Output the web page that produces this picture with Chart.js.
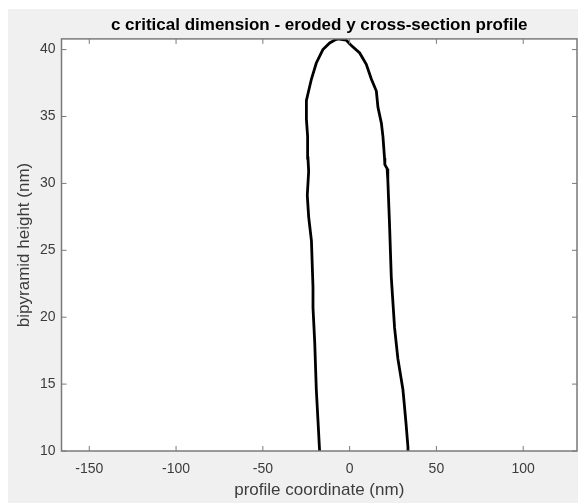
<!DOCTYPE html>
<html lang="en">
<head>
    <meta charset="UTF-8">
    <title>eroded y cross-section profile</title>
    <script src="https://cdn.jsdelivr.net/npm/chart.js"></script>
    <style>
        body {
            margin: 0;
            background-color: #ffffff;
        }
        #wrap {
            position: relative;
            width: 578px;
            height: 503px;
        }
    </style>
</head>
<body>
    <div id="wrap">
        <canvas id="profileChart" width="578" height="503"></canvas>
    </div>

    <script>
        // profile outline (left edge up, then right edge down)
        const profileX = [-17.3, -18.2, -19.2, -20.1, -21.1, -21.1, -22.0, -23.6, -24.4, -23.6, -24.0, -24.2, -24.9,
            -24.9, -24.0, -22.0, -19.2, -15.4, -11.5, -8.0, -6.7, -4.0, -1.9, 1.0, 5.8, 9.6, 12.5, 15.4, 16.3, 18.3,
            19.2, 20.1, 20.3, 21.6, 22.0, 23.0, 24.0, 25.9, 27.8, 30.7, 31.7, 32.6, 33.6, 33.6];
        const profileY = [10.0, 12.2, 14.6, 18.1, 20.7, 22.2, 25.7, 27.5, 29.1, 30.9, 31.9, 33.5, 34.8,
            36.2, 36.7, 37.8, 39.0, 40.0, 40.5, 40.75, 40.8, 40.75, 40.7, 40.3, 39.75, 38.9, 37.8, 36.9, 35.7, 34.5,
            33.5, 31.9, 31.4, 31.1, 30.3, 26.9, 23.0, 19.2, 16.9, 14.6, 13.2, 11.9, 10.3, 10.0];

        const xTicks = [-150, -100, -50, 0, 50, 100];
        const yTicks = [10, 15, 20, 25, 30, 35, 40];

        const points = profileX.map((x, i) => ({ x: x, y: profileY[i] }));

        // matlab style frame: grey figure, white axes, ticks pointing inwards
        const matlabFrame = {
            id: 'matlabFrame',
            beforeDraw(chart) {
                const { ctx, chartArea: a } = chart;
                ctx.save();
                ctx.fillStyle = '#f0f0f0';
                ctx.fillRect(8, 9, chart.width - 8, chart.height - 9);
                ctx.fillStyle = '#ffffff';
                ctx.fillRect(a.left, a.top, a.width, a.height);
                ctx.restore();
            },
            afterDraw(chart) {
                const { ctx, chartArea: a, scales } = chart;
                const len = 5;
                ctx.save();
                ctx.strokeStyle = '#7a7a7a';
                ctx.lineWidth = 1.5;
                ctx.strokeRect(a.left, a.top, a.width, a.height);
                ctx.lineWidth = 1;
                ctx.beginPath();
                xTicks.forEach(v => {
                    const px = scales.x.getPixelForValue(v);
                    ctx.moveTo(px, a.bottom); ctx.lineTo(px, a.bottom - len);
                    ctx.moveTo(px, a.top); ctx.lineTo(px, a.top + len);
                });
                yTicks.forEach(v => {
                    const py = scales.y.getPixelForValue(v);
                    ctx.moveTo(a.left, py); ctx.lineTo(a.left + len, py);
                    ctx.moveTo(a.right, py); ctx.lineTo(a.right - len, py);
                });
                ctx.stroke();
                ctx.restore();
            }
        };

        const tickFont = { family: 'Arial', size: 14 };
        const labelFont = { family: 'Arial', size: 17 };

        new Chart(document.getElementById('profileChart'), {
            type: 'scatter',
            data: {
                datasets: [{
                    data: points,
                    showLine: true,
                    borderColor: '#000000',
                    borderWidth: 2.8,
                    pointRadius: 0,
                    tension: 0
                }]
            },
            options: {
                responsive: false,
                animation: false,
                layout: { padding: { left: 8, top: 9, right: 1, bottom: 0 } },
                plugins: {
                    legend: { display: false },
                    tooltip: { enabled: false },
                    title: {
                        display: true,
                        text: 'c critical dimension - eroded y cross-section profile',
                        color: '#000000',
                        fullSize: false,
                        font: { family: 'Arial', size: 17, weight: 'bold' },
                        padding: { top: 6, bottom: 3.5 }
                    }
                },
                scales: {
                    x: {
                        type: 'linear',
                        min: -166,
                        max: 131,
                        afterBuildTicks: s => { s.ticks = xTicks.map(v => ({ value: v })); },
                        afterFit: s => { s.height = 52; },
                        grid: { display: false, drawTicks: false },
                        border: { display: false },
                        ticks: { color: '#3c3c3c', font: tickFont, padding: 10, maxRotation: 0 },
                        title: {
                            display: true,
                            text: 'profile coordinate (nm)',
                            color: '#3c3c3c',
                            font: labelFont,
                            padding: { top: 0, bottom: 2 }
                        }
                    },
                    y: {
                        type: 'linear',
                        min: 10,
                        max: 40.8,
                        afterBuildTicks: s => { s.ticks = yTicks.map(v => ({ value: v })); },
                        afterFit: s => { s.width = 53.5; },
                        grid: { display: false, drawTicks: false },
                        border: { display: false },
                        ticks: { color: '#3c3c3c', font: tickFont, padding: 6 },
                        title: {
                            display: true,
                            text: 'bipyramid height (nm)',
                            color: '#3c3c3c',
                            font: labelFont,
                            padding: { top: 6, bottom: 0 }
                        }
                    }
                }
            },
            plugins: [matlabFrame]
        });
    </script>
</body>
</html>
